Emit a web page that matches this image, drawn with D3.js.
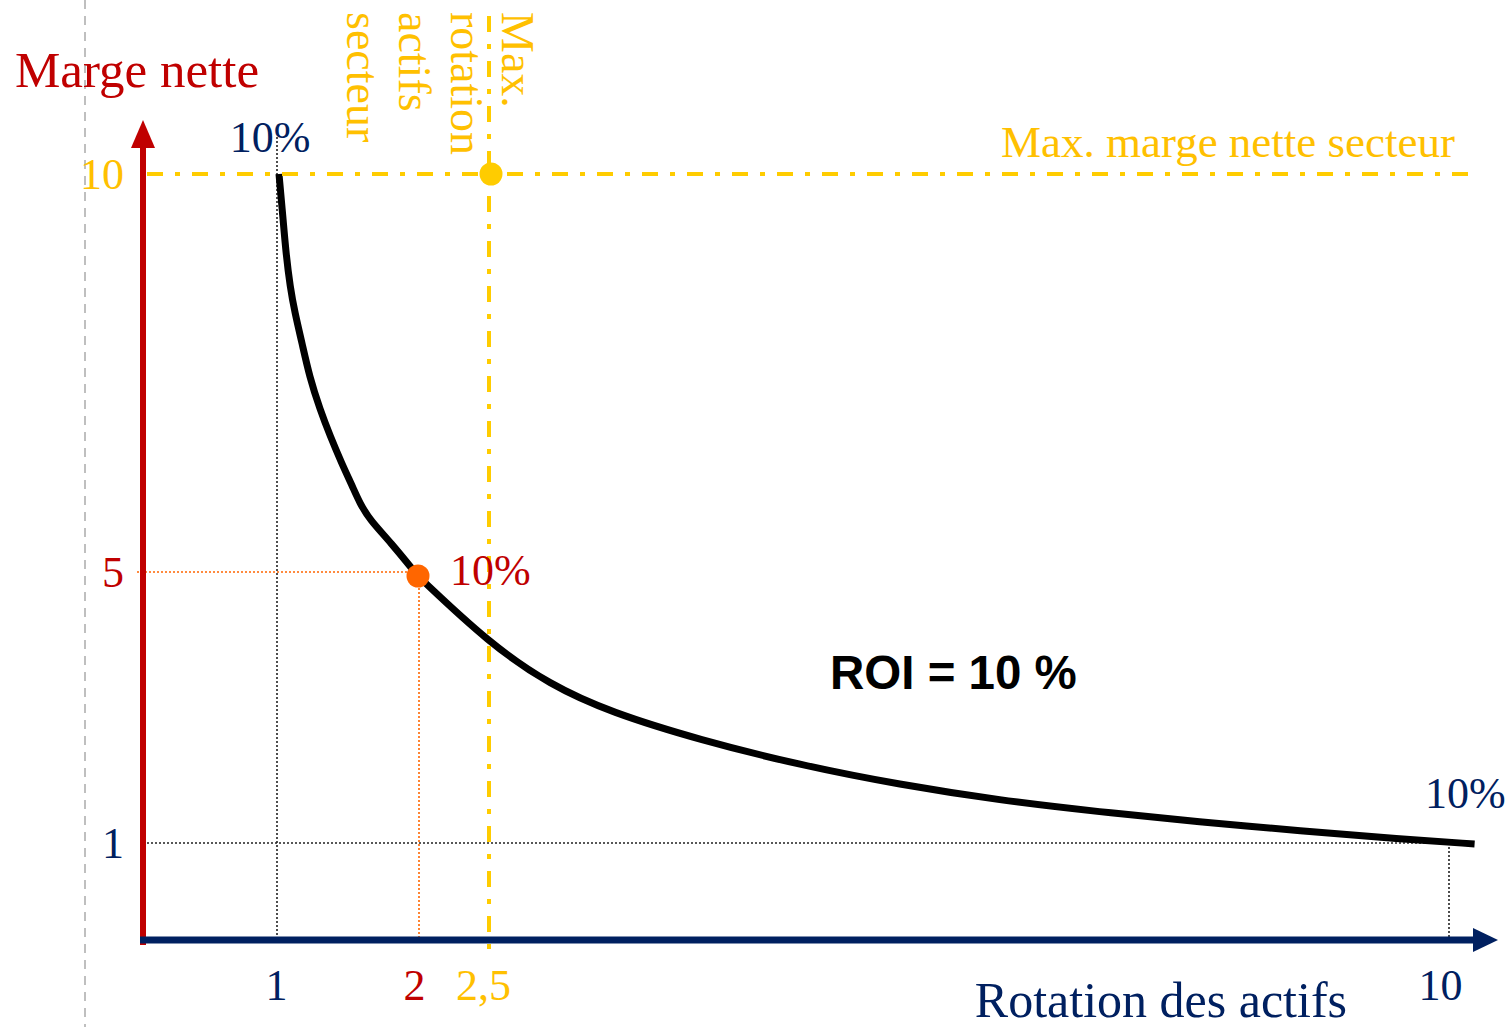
<!DOCTYPE html>
<html>
<head>
<meta charset="utf-8">
<script src="https://cdn.jsdelivr.net/npm/d3@7"></script>
<style>
  html, body { margin: 0; padding: 0; background: #fff; }
  svg { display: block; }
</style>
</head>
<body>
<svg id="chart" width="1510" height="1027"></svg>
<script>
// ---- data ----
const curveRotation = [1, 1, 1.03, 1.05, 1.08, 1.115, 1.165, 1.22, 1.295, 1.37, 1.45, 1.53, 1.58, 1.655, 1.8, 2, 2, 2.5, 2.98, 3.45, 4.15, 4.93, 5.71, 6.49, 7.27, 8.05, 8.84, 9.62, 10.2, 10.2];
const curveMarge    = [10, 10, 9.42, 9.01, 8.58, 8.25, 7.88, 7.45, 7.04, 6.70, 6.37, 6.07, 5.87, 5.65, 5.38, 4.94, 4.94, 3.95, 3.33, 2.93, 2.52, 2.15, 1.86, 1.63, 1.46, 1.31, 1.18, 1.06, 0.99, 0.99];
const xTicks = [1, 2, 2.5, 10];
const xTickLabels = ["1", "2", "2,5", "10"];
const yTicks = [1, 5, 10];
const yTickLabels = ["1", "5", "10"];
const pointRotation = [1, 2, 10];
const pointMarge = [10, 5, 1];
const pointLabels = ["10%", "10%", "10%"];
const maxRotation = 2.5;
const maxMarge = 10;
const roiLabel = "ROI = 10 %";
const xTitle = "Rotation des actifs";
const yTitle = "Marge nette";
const maxMargeLabel = "Max. marge nette secteur";
const maxRotationLabel = ["Max.", "rotation", "actifs", "secteur"];

// ---- styles ----
const NAVY = "#002060", RED = "#C00000", GOLD = "#FFC000", YLINE = "#FFCC00", ORANGE = "#FF6600";
const SERIF = "'Liberation Serif', 'Times New Roman', serif";
const xTickColors = [NAVY, RED, GOLD, NAVY];
const yTickColors = [NAVY, RED, GOLD];
const xTickDx = [-3, -4, -6, -9];

const svg = d3.select("#chart");

// piecewise (schematic) scales
const x = d3.scaleLinear().domain([0, 1, 2, 2.5, 10]).range([143, 279, 418, 489, 1449]);
const y = d3.scaleLinear().domain([0, 1, 5, 10]).range([940, 843, 572, 174]);
const x0 = x(0), y0 = y(0);

// gray dashed page line
svg.append("line").attr("x1", 85).attr("x2", 85).attr("y1", 0).attr("y2", 1027)
  .attr("stroke", "#BFBFBF").attr("stroke-width", 2).attr("stroke-dasharray", "9,7");

// dotted guide lines (black)
const dotted = svg.append("g").attr("fill", "none").attr("stroke-width", 1.6).attr("stroke-dasharray", "2,2");
dotted.append("line").attr("x1", x(1) - 2).attr("x2", x(1) - 2).attr("y1", 137).attr("y2", y0).attr("stroke", "#222");
dotted.append("line").attr("x1", x0 + 4).attr("x2", x(10)).attr("y1", y(1)).attr("y2", y(1)).attr("stroke", "#222");
dotted.append("line").attr("x1", x(10)).attr("x2", x(10)).attr("y1", y(1)).attr("y2", y0).attr("stroke", "#222");
// orange dotted
dotted.append("line").attr("x1", x0 - 6).attr("x2", x(2)).attr("y1", y(5)).attr("y2", y(5)).attr("stroke", ORANGE);
dotted.append("line").attr("x1", x(2) + 1).attr("x2", x(2) + 1).attr("y1", y(5)).attr("y2", y0).attr("stroke", ORANGE);

// ROI curve
const line = d3.line().x(d => x(d[0])).y(d => y(d[1])).curve(d3.curveBasis);
svg.append("path").datum(d3.zip(curveRotation, curveMarge))
  .attr("d", line).attr("fill", "none").attr("stroke", "#000").attr("stroke-width", 7);

// yellow sector max lines
svg.append("line").attr("x1", x0 + 4).attr("x2", 1476).attr("y1", y(maxMarge)).attr("y2", y(maxMarge))
  .attr("stroke", YLINE).attr("stroke-width", 4).attr("stroke-dasharray", "16,12,5,12");
svg.append("line").attr("x1", x(maxRotation)).attr("x2", x(maxRotation)).attr("y1", 16).attr("y2", 956)
  .attr("stroke", YLINE).attr("stroke-width", 4).attr("stroke-dasharray", "16,12,5,12");

// dots
svg.append("circle").attr("cx", x(maxRotation) + 2).attr("cy", y(maxMarge)).attr("r", 11.5).attr("fill", YLINE);
svg.append("circle").attr("cx", x(2)).attr("cy", y(5) + 4).attr("r", 11.5).attr("fill", ORANGE);

// axes lines with arrows
svg.append("line").attr("x1", x0).attr("x2", x0).attr("y1", y0 + 5).attr("y2", 146)
  .attr("stroke", RED).attr("stroke-width", 6);
svg.append("path").attr("d", d3.line()([[x0 - 12, 148], [x0 + 12, 148], [x0, 120]])).attr("fill", RED);
svg.append("line").attr("x1", x0 - 3).attr("x2", 1476).attr("y1", y0).attr("y2", y0)
  .attr("stroke", NAVY).attr("stroke-width", 7);
svg.append("path").attr("d", d3.line()([[1473, y0 - 12], [1473, y0 + 12], [1498, y0]])).attr("fill", NAVY);

// tick labels via d3 axes
const gx = svg.append("g").attr("transform", `translate(0,${y0})`)
  .call(d3.axisBottom(x).tickValues(xTicks).tickSize(0).tickFormat((d, i) => xTickLabels[i]));
gx.select(".domain").remove();
gx.selectAll("text").attr("y", 60).attr("dy", 0)
  .attr("dx", (d, i) => xTickDx[i])
  .attr("fill", (d, i) => xTickColors[i])
  .style("font-family", SERIF).style("font-size", "44px");

const gy = svg.append("g").attr("transform", `translate(${x0},0)`)
  .call(d3.axisLeft(y).tickValues(yTicks).tickSize(0).tickFormat((d, i) => yTickLabels[i]));
gy.select(".domain").remove();
gy.selectAll("text").attr("x", -19).attr("dy", "0.34em")
  .attr("fill", (d, i) => yTickColors[i])
  .style("font-family", SERIF).style("font-size", "44px");

// point labels "10%"
const labelPos = [{dx: -9, dy: -22, anchor: "middle", color: NAVY},
                  {dx: 32, dy: 13, anchor: "start", color: RED},
                  {dx: -24, dy: -35, anchor: "start", color: NAVY}];
svg.append("g").selectAll("text").data(pointLabels).join("text")
  .attr("x", (d, i) => x(pointRotation[i]) + labelPos[i].dx)
  .attr("y", (d, i) => y(pointMarge[i]) + labelPos[i].dy)
  .attr("text-anchor", (d, i) => labelPos[i].anchor)
  .attr("fill", (d, i) => labelPos[i].color)
  .style("font-family", SERIF).style("font-size", "44px")
  .text(d => d);

// titles
svg.append("text").attr("x", 15).attr("y", 87).attr("fill", RED)
  .style("font-family", SERIF).style("font-size", "51px").text(yTitle);
svg.append("text").attr("x", 1347).attr("y", 1017).attr("text-anchor", "end").attr("fill", NAVY)
  .style("font-family", SERIF).style("font-size", "50px").text(xTitle);

// max marge label
svg.append("text").attr("x", 1455).attr("y", 157).attr("text-anchor", "end").attr("fill", GOLD)
  .style("font-family", SERIF).style("font-size", "45px").text(maxMargeLabel);

// rotated max rotation label (reads top to bottom)
const rotX = [502, 451, 399, 347];
svg.append("g").selectAll("text").data(maxRotationLabel).join("text")
  .attr("transform", (d, i) => `translate(${rotX[i]},12) rotate(90)`)
  .attr("fill", GOLD)
  .style("font-family", SERIF).style("font-size", "46px")
  .text(d => d);

// ROI label
svg.append("text").attr("x", 830).attr("y", 689).attr("fill", "#000")
  .style("font-family", "'Liberation Sans', Arial, sans-serif").style("font-weight", "bold").style("font-size", "47.5px")
  .text(roiLabel);
</script>
</body>
</html>
